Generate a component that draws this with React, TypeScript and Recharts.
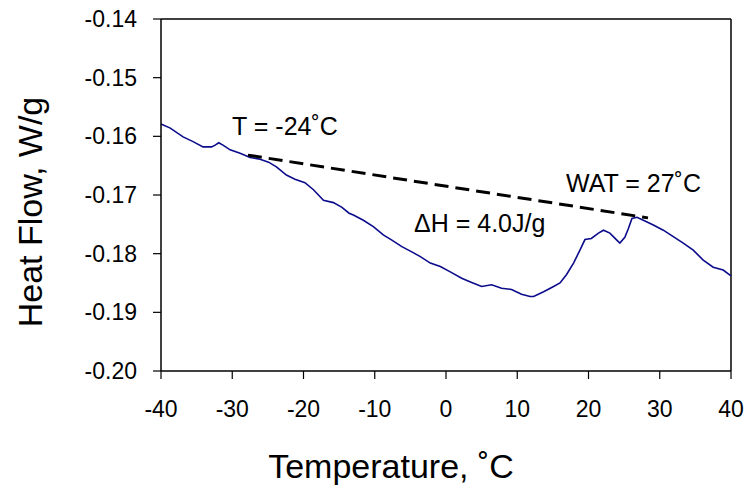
import React from "react";
import { LineChart, Line, XAxis, YAxis, ReferenceLine } from "recharts";

// DSC heat flow trace
const temps = [
  -40, -38.7, -36.9, -35.5, -34.1, -32.9, -32.4, -31.9, -31.3, -30.3, -28.9, -27.5, -26.1,
  -24.9, -23.8, -22.4, -21.2, -19.8, -18.6, -17.2, -15.8, -14.6, -13.6, -13.0, -11.6, -10.2,
  -8.8, -7.6, -6.2, -4.8, -3.6, -2.2, -0.8, 0.6, 2.2, 3.6, 5.0, 6.4, 7.8, 9.2, 10.6, 11.8,
  12.3, 13.7, 15.1, 16.0, 16.9, 17.9, 18.8, 19.5, 20.4, 21.4, 22.1, 23.0, 23.9, 24.4, 25.1,
  25.6, 26.1, 26.8, 27.7, 29.1, 30.5, 31.9, 33.3, 34.7, 36.1, 37.5, 38.9, 40,
];
const heatFlow = [
  -0.1579, -0.1586, -0.1601, -0.1609, -0.1618, -0.1618, -0.1615, -0.1611, -0.1615, -0.1623,
  -0.1629, -0.1636, -0.1639, -0.1644, -0.1652, -0.1666, -0.1673, -0.1679, -0.1691, -0.1709,
  -0.1713, -0.1721, -0.1731, -0.1734, -0.1743, -0.1754, -0.1768, -0.1777, -0.1788, -0.1797,
  -0.1805, -0.1816, -0.1822, -0.1831, -0.1842, -0.1849, -0.1856, -0.1853, -0.1859, -0.1861,
  -0.1869, -0.1873, -0.1873, -0.1865, -0.1856, -0.185, -0.1836, -0.1816, -0.1794, -0.1776,
  -0.1774, -0.1765, -0.176, -0.1765, -0.1776, -0.1782, -0.1772, -0.1757, -0.174, -0.1738,
  -0.1743, -0.1751, -0.176, -0.1771, -0.1782, -0.1794, -0.1811, -0.1823, -0.1828, -0.1838,
];

// baseline tangent between onset and WAT
const baseTemps = [-27.8, 28.35];
const baseFlow = [-0.1632, -0.1739];

const xTicks = [-40, -30, -20, -10, 0, 10, 20, 30, 40];
const yTicks = [-0.2, -0.19, -0.18, -0.17, -0.16, -0.15, -0.14];

const curve = temps.map((t, i) => ({ x: t, y: heatFlow[i] }));
const baseline = baseTemps.map((t, i) => ({ x: t, y: baseFlow[i] }));

const font = "'Liberation Sans', Arial, sans-serif";

export default function App() {
  return (
    <div style={{ position: "absolute", left: 0, top: 0, width: 744, height: 487 }}>
      <LineChart
        width={744}
        height={487}
        margin={{ top: 19, right: 13, left: 61, bottom: 76 }}
        style={{ fontFamily: font }}
      >
        <XAxis
          type="number"
          dataKey="x"
          domain={[-40, 40]}
          ticks={xTicks}
          height={40}
          tickSize={8}
          tickMargin={22}
          axisLine={{ stroke: "#000", strokeWidth: 1.5 }}
          tickLine={{ stroke: "#000", strokeWidth: 1.2 }}
          tick={{ fill: "#000", fontSize: 23, fontFamily: font }}
        />
        <YAxis
          type="number"
          dataKey="y"
          domain={[-0.2, -0.14]}
          ticks={yTicks}
          width={100}
          tickSize={8}
          tickMargin={16}
          tickFormatter={(v: number) => v.toFixed(2)}
          axisLine={{ stroke: "#000", strokeWidth: 1.5 }}
          tickLine={{ stroke: "#000", strokeWidth: 1.2 }}
          tick={{ fill: "#000", fontSize: 23, fontFamily: font }}
        />
        <ReferenceLine y={-0.14} stroke="#000" strokeWidth={1.5} />
        <ReferenceLine x={40} stroke="#000" strokeWidth={1.5} />
        <Line
          data={curve}
          dataKey="y"
          type="linear"
          stroke="#0b0b8c"
          strokeWidth={1.6}
          dot={false}
          isAnimationActive={false}
        />
        <Line
          data={baseline}
          dataKey="y"
          type="linear"
          stroke="#000"
          strokeWidth={3}
          strokeDasharray="14 7"
          dot={false}
          isAnimationActive={false}
        />
      </LineChart>
      <svg
        width={744}
        height={487}
        style={{ position: "absolute", left: 0, top: 0, pointerEvents: "none" }}
        fontFamily={font}
      >
        <text x={232} y={135} fontSize={25} fill="#000">T = -24˚C</text>
        <text x={414} y={232} fontSize={25} fill="#000">ΔH = 4.0J/g</text>
        <text x={566} y={192} fontSize={25} fill="#000">WAT = 27˚C</text>
        <text x={391} y={478} fontSize={34} fill="#000" textAnchor="middle">
          Temperature, ˚C
        </text>
        <text
          x={42}
          y={212}
          fontSize={34}
          fill="#000"
          textAnchor="middle"
          transform="rotate(-90, 42, 212)"
        >
          Heat Flow, W/g
        </text>
      </svg>
    </div>
  );
}
